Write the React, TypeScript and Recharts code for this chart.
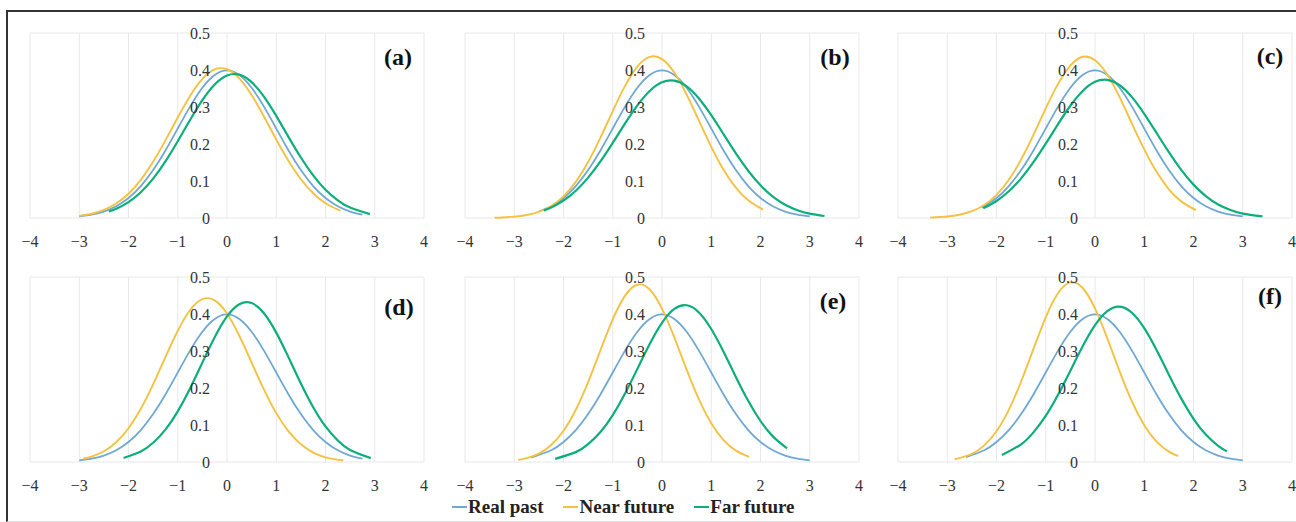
import React from 'react';
import { LineChart, Line, XAxis, YAxis, CartesianGrid, ReferenceDot } from 'recharts';

const FONT = '"Liberation Serif", "Times New Roman", serif';

const SERIES_NAMES = ['Real past', 'Near future', 'Far future'];
const SERIES_COLORS = ['#6FA8D3', '#F4C243', '#0DAE7B'];
const PANEL_LABELS = ['(a)', '(b)', '(c)', '(d)', '(e)', '(f)'];
const X_TICKS = [-4, -3, -2, -1, 0, 1, 2, 3, 4];
const Y_TICKS = [0, 0.1, 0.2, 0.3, 0.4, 0.5];

type P = [number, number][];

// Panel (a)
const A_PAST: P = [[-3, 0.0044], [-2.75, 0.0091], [-2.5, 0.0175], [-2.25, 0.0317], [-2, 0.054], [-1.75, 0.0863], [-1.5, 0.1295], [-1.25, 0.1826], [-1, 0.242], [-0.75, 0.3011], [-0.5, 0.3521], [-0.25, 0.3867], [0, 0.3989], [0.25, 0.3867], [0.5, 0.3521], [0.75, 0.3011], [1, 0.242], [1.25, 0.1826], [1.5, 0.1295], [1.75, 0.0863], [2, 0.054], [2.25, 0.0317], [2.5, 0.0175], [2.75, 0.0091]];
const A_NEAR: P = [[-3, 0.0056], [-2.75, 0.0115], [-2.5, 0.0219], [-2.25, 0.0391], [-2, 0.0655], [-1.75, 0.103], [-1.5, 0.1518], [-1.25, 0.2098], [-1, 0.2718], [-0.75, 0.33], [-0.5, 0.376], [-0.25, 0.4015], [0, 0.402], [0.25, 0.3775], [0.5, 0.3323], [0.75, 0.2742], [1, 0.2123], [1.25, 0.154], [1.5, 0.1047], [1.75, 0.0668], [2, 0.04], [2.3, 0.0198]];
const A_FAR: P = [[-2.4, 0.0176], [-2.25, 0.0251], [-2, 0.0431], [-1.75, 0.0698], [-1.5, 0.1065], [-1.25, 0.1531], [-1, 0.2075], [-0.75, 0.2647], [-0.5, 0.3183], [-0.25, 0.3607], [0, 0.3851], [0.25, 0.3874], [0.5, 0.3672], [0.75, 0.328], [1, 0.2759], [1.25, 0.2187], [1.5, 0.1635], [1.75, 0.1151], [2, 0.0763], [2.25, 0.0477], [2.5, 0.0281], [2.9, 0.0106]];

// Panel (b)
const B_PAST: P = [[-2.5, 0.0175], [-2.25, 0.0317], [-2, 0.054], [-1.75, 0.0863], [-1.5, 0.1295], [-1.25, 0.1826], [-1, 0.242], [-0.75, 0.3011], [-0.5, 0.3521], [-0.25, 0.3867], [0, 0.3989], [0.25, 0.3867], [0.5, 0.3521], [0.75, 0.3011], [1, 0.242], [1.25, 0.1826], [1.5, 0.1295], [1.75, 0.0863], [2, 0.054], [2.25, 0.0317], [2.5, 0.0175], [2.75, 0.0091], [3, 0.0044]];
const B_NEAR: P = [[-3.4, 0.0008], [-3.25, 0.0015], [-3, 0.0036], [-2.75, 0.0081], [-2.5, 0.0168], [-2.25, 0.0326], [-2, 0.0586], [-1.75, 0.0977], [-1.5, 0.1512], [-1.25, 0.217], [-1, 0.2891], [-0.75, 0.3572], [-0.5, 0.4094], [-0.25, 0.4353], [0, 0.4295], [0.25, 0.3931], [0.5, 0.3338], [0.75, 0.2629], [1, 0.1924], [1.25, 0.1304], [1.5, 0.082], [1.75, 0.0479], [2.05, 0.0228]];
const B_FAR: P = [[-2.4, 0.0207], [-2.25, 0.0286], [-2, 0.0472], [-1.75, 0.0738], [-1.5, 0.1092], [-1.25, 0.153], [-1, 0.2031], [-0.75, 0.2555], [-0.5, 0.3043], [-0.25, 0.3433], [0, 0.3668], [0.25, 0.3712], [0.5, 0.3558], [0.75, 0.3231], [1, 0.2778], [1.25, 0.2263], [1.5, 0.1746], [1.75, 0.1276], [2, 0.0883], [2.25, 0.0578], [2.5, 0.0359], [2.75, 0.0211], [3, 0.0118], [3.3, 0.0054]];

// Panel (c)
const C_PAST: P = [[-2.3, 0.0283], [-2, 0.054], [-1.75, 0.0863], [-1.5, 0.1295], [-1.25, 0.1826], [-1, 0.242], [-0.75, 0.3011], [-0.5, 0.3521], [-0.25, 0.3867], [0, 0.3989], [0.25, 0.3867], [0.5, 0.3521], [0.75, 0.3011], [1, 0.242], [1.25, 0.1826], [1.5, 0.1295], [1.75, 0.0863], [2, 0.054], [2.25, 0.0317], [2.5, 0.0175], [2.75, 0.0091], [3, 0.0044]];
const C_NEAR: P = [[-3.35, 0.0011], [-3, 0.004], [-2.75, 0.0089], [-2.5, 0.0183], [-2.25, 0.0351], [-2, 0.0625], [-1.75, 0.1032], [-1.5, 0.1582], [-1.25, 0.2245], [-1, 0.2962], [-0.75, 0.3625], [-0.5, 0.4121], [-0.25, 0.4358], [0, 0.4265], [0.25, 0.3876], [0.5, 0.3265], [0.75, 0.255], [1, 0.1853], [1.25, 0.1247], [1.5, 0.0776], [1.75, 0.0449], [2.05, 0.0211]];
const C_FAR: P = [[-2.27, 0.0261], [-2, 0.0459], [-1.75, 0.0722], [-1.5, 0.1071], [-1.25, 0.1508], [-1, 0.2009], [-0.75, 0.2538], [-0.5, 0.3034], [-0.25, 0.3434], [0, 0.3681], [0.25, 0.3735], [0.5, 0.3589], [0.75, 0.3267], [1, 0.2815], [1.25, 0.2299], [1.5, 0.1779], [1.75, 0.1302], [2, 0.0902], [2.25, 0.0591], [2.5, 0.0366], [2.75, 0.0214], [3, 0.0118], [3.4, 0.0043]];

// Panel (d)
const D_PAST: P = [[-3, 0.0044], [-2.75, 0.0091], [-2.5, 0.0175], [-2.25, 0.0317], [-2, 0.054], [-1.75, 0.0863], [-1.5, 0.1295], [-1.25, 0.1826], [-1, 0.242], [-0.75, 0.3011], [-0.5, 0.3521], [-0.25, 0.3867], [0, 0.3989], [0.25, 0.3867], [0.5, 0.3521], [0.75, 0.3011], [1, 0.242], [1.25, 0.1826], [1.5, 0.1295], [1.75, 0.0863], [2, 0.054], [2.25, 0.0317], [2.5, 0.0175], [2.75, 0.0091]];
const D_NEAR: P = [[-2.92, 0.0088], [-2.75, 0.0147], [-2.5, 0.0291], [-2.25, 0.0535], [-2, 0.0913], [-1.75, 0.1438], [-1.5, 0.2099], [-1.25, 0.2836], [-1, 0.3547], [-0.75, 0.4107], [-0.5, 0.4403], [-0.25, 0.4369], [0, 0.4014], [0.25, 0.3413], [0.5, 0.2687], [0.75, 0.1958], [1, 0.1321], [1.25, 0.0826], [1.5, 0.0477], [1.75, 0.0255], [2, 0.0127], [2.36, 0.004]];
const D_FAR: P = [[-2.1, 0.011], [-1.75, 0.0286], [-1.5, 0.0519], [-1.25, 0.0874], [-1, 0.1368], [-0.75, 0.1988], [-0.5, 0.2686], [-0.25, 0.3371], [0, 0.3933], [0.25, 0.4263], [0.5, 0.4295], [0.75, 0.402], [1, 0.3497], [1.25, 0.2827], [1.5, 0.2124], [1.75, 0.1482], [2, 0.0962], [2.25, 0.058], [2.5, 0.0325], [2.92, 0.0104]];

// Panel (e)
const E_PAST: P = [[-2.66, 0.0116], [-2.25, 0.0317], [-2, 0.054], [-1.75, 0.0863], [-1.5, 0.1295], [-1.25, 0.1826], [-1, 0.242], [-0.75, 0.3011], [-0.5, 0.3521], [-0.25, 0.3867], [0, 0.3989], [0.25, 0.3867], [0.5, 0.3521], [0.75, 0.3011], [1, 0.242], [1.25, 0.1826], [1.5, 0.1295], [1.75, 0.0863], [2, 0.054], [2.25, 0.0317], [2.5, 0.0175], [2.75, 0.0091], [3, 0.0044]];
const E_NEAR: P = [[-2.92, 0.0058], [-2.75, 0.0104], [-2.5, 0.0229], [-2.25, 0.0459], [-2, 0.0843], [-1.75, 0.1413], [-1.5, 0.216], [-1.25, 0.302], [-1, 0.3855], [-0.75, 0.4497], [-0.5, 0.4791], [-0.25, 0.4663], [0, 0.4145], [0.25, 0.3367], [0.5, 0.2497], [0.75, 0.1692], [1, 0.1048], [1.25, 0.0592], [1.5, 0.0306], [1.77, 0.0136]];
const E_FAR: P = [[-2.17, 0.0085], [-1.75, 0.0267], [-1.5, 0.0482], [-1.25, 0.081], [-1, 0.1269], [-0.75, 0.1852], [-0.5, 0.2517], [-0.25, 0.3188], [0, 0.3762], [0.25, 0.4136], [0.5, 0.4236], [0.75, 0.4043], [1, 0.3595], [1.25, 0.2979], [1.5, 0.2299], [1.75, 0.1653], [2, 0.1108], [2.25, 0.0692], [2.54, 0.0367]];

// Panel (f)
const F_PAST: P = [[-2.62, 0.0129], [-2.25, 0.0317], [-2, 0.054], [-1.75, 0.0863], [-1.5, 0.1295], [-1.25, 0.1826], [-1, 0.242], [-0.75, 0.3011], [-0.5, 0.3521], [-0.25, 0.3867], [0, 0.3989], [0.25, 0.3867], [0.5, 0.3521], [0.75, 0.3011], [1, 0.242], [1.25, 0.1826], [1.5, 0.1295], [1.75, 0.0863], [2, 0.054], [2.25, 0.0317], [2.5, 0.0175], [2.75, 0.0091], [3, 0.0044]];
const F_NEAR: P = [[-2.85, 0.0069], [-2.5, 0.022], [-2.25, 0.0449], [-2, 0.0833], [-1.75, 0.141], [-1.5, 0.2175], [-1.25, 0.3056], [-1, 0.3912], [-0.75, 0.4566], [-0.5, 0.4854], [-0.25, 0.4703], [0, 0.4152], [0.25, 0.334], [0.5, 0.2449], [0.75, 0.1635], [1, 0.0996], [1.25, 0.0553], [1.5, 0.0279], [1.69, 0.0157]];
const F_FAR: P = [[-1.89, 0.0187], [-1.5, 0.0478], [-1.25, 0.08], [-1, 0.1247], [-0.75, 0.1816], [-0.5, 0.2467], [-0.25, 0.3126], [0, 0.3697], [0.25, 0.4079], [0.5, 0.4199], [0.75, 0.4034], [1, 0.3616], [1.25, 0.3024], [1.5, 0.236], [1.75, 0.1719], [2, 0.1168], [2.25, 0.074], [2.5, 0.0438], [2.68, 0.0287]];

const PANEL_SERIES: P[][] = [
  [A_PAST, A_NEAR, A_FAR],
  [B_PAST, B_NEAR, B_FAR],
  [C_PAST, C_NEAR, C_FAR],
  [D_PAST, D_NEAR, D_FAR],
  [E_PAST, E_NEAR, E_FAR],
  [F_PAST, F_NEAR, F_FAR],
];

// layout (styles only)
const COL_LEFT = [30, 465, 898];
const ROW_TOP = [33, 277];
const PW = 394;
const PH = 185;
const M = { top: 10, right: 12, bottom: 4, left: 20 };
const XH = 30;
const LABEL_POS = [[398, 57], [835, 57], [1270, 56], [399, 307], [833, 301], [1270, 296]];
const STROKE_W = [1.8, 1.9, 2.2];
const TICK_STYLE = { fontFamily: FONT, fontSize: 16 };

const fmtX = (v: number) => (v < 0 ? '\u2212' + Math.abs(v) : String(v));
const fmtY = (v: number) => (v === 0 ? '0' : v.toFixed(1));
const toPts = (arr: P) => arr.map(([x, y]) => ({ x, y }));

const XTick = (props: any) => {
  const { x, y, payload } = props;
  return (
    <text x={x} y={y} dy="0.71em" textAnchor="middle" fill="#333" style={TICK_STYLE}>
      {fmtX(payload.value)}
    </text>
  );
};

const yLabel = (v: number) => (props: any) => {
  const vb = props.viewBox || {};
  const cx = (vb.x ?? 0) + (vb.width ?? 0) / 2;
  const cy = (vb.y ?? 0) + (vb.height ?? 0) / 2;
  return (
    <text x={cx - 17} y={cy} dy="0.35em" textAnchor="end" fill="#333" style={TICK_STYLE}>
      {fmtY(v)}
    </text>
  );
};

function Panel({ idx }: { idx: number }) {
  const col = idx % 3;
  const row = Math.floor(idx / 3);
  const left = COL_LEFT[col] - M.left;
  const top = ROW_TOP[row] - M.top;
  const series = PANEL_SERIES[idx];
  return (
    <div style={{ position: 'absolute', left, top }}>
      <LineChart width={PW + M.left + M.right} height={PH + M.top + M.bottom + XH} margin={M}>
        <CartesianGrid stroke="#e8e8e8" strokeWidth={1} />
        <XAxis
          type="number"
          dataKey="x"
          domain={[-4, 4]}
          ticks={X_TICKS}
          interval={0}
          allowDataOverflow
          axisLine={false}
          tickLine={false}
          tickMargin={12}
          height={XH}
          tick={<XTick />}
        />
        <YAxis type="number" domain={[0, 0.5]} ticks={Y_TICKS} width={0} axisLine={false} tickLine={false} tick={false} />
        {Y_TICKS.map((v) => (
          <ReferenceDot key={v} x={0} y={v} r={1} fill="none" stroke="none" label={{ content: yLabel(v) }} />
        ))}
        {series.map((s, i) => (
          <Line
            key={SERIES_NAMES[i]}
            name={SERIES_NAMES[i]}
            data={toPts(s)}
            dataKey="y"
            type="natural"
            stroke={SERIES_COLORS[i]}
            strokeWidth={STROKE_W[i]}
            dot={false}
            activeDot={false}
            isAnimationActive={false}
          />
        ))}
      </LineChart>
    </div>
  );
}

export default function App() {
  return (
    <div
      style={{
        position: 'absolute',
        left: 0,
        top: 0,
        width: 1296,
        height: 522,
        background: '#fff',
        overflow: 'hidden',
        fontFamily: FONT,
      }}
    >
      <div
        style={{
          position: 'absolute',
          left: 6,
          top: 10,
          width: 1300,
          height: 509,
          borderLeft: '2px solid #333',
          borderTop: '2px solid #333',
          borderBottom: '1px solid #ddd',
        }}
      />
      {PANEL_LABELS.map((lab, i) => (
        <Panel key={lab} idx={i} />
      ))}
      {PANEL_LABELS.map((lab, i) => (
        <div
          key={'l' + lab}
          style={{
            position: 'absolute',
            left: LABEL_POS[i][0] - 30,
            top: LABEL_POS[i][1] - 14,
            width: 60,
            textAlign: 'center',
            fontSize: 24,
            lineHeight: '28px',
            fontWeight: 'bold',
            color: '#111',
          }}
        >
          {lab}
        </div>
      ))}
      <div
        style={{
          position: 'absolute',
          left: 452,
          top: 495,
          display: 'flex',
          alignItems: 'center',
          gap: 20,
          fontSize: 19,
          fontWeight: 'bold',
          color: '#222',
          lineHeight: '24px',
        }}
      >
        {SERIES_NAMES.map((n, i) => (
          <div key={n} style={{ display: 'flex', alignItems: 'center' }}>
            <span style={{ display: 'inline-block', width: 15, height: 2, background: SERIES_COLORS[i], marginRight: 1 }} />
            <span>{n}</span>
          </div>
        ))}
      </div>
    </div>
  );
}
